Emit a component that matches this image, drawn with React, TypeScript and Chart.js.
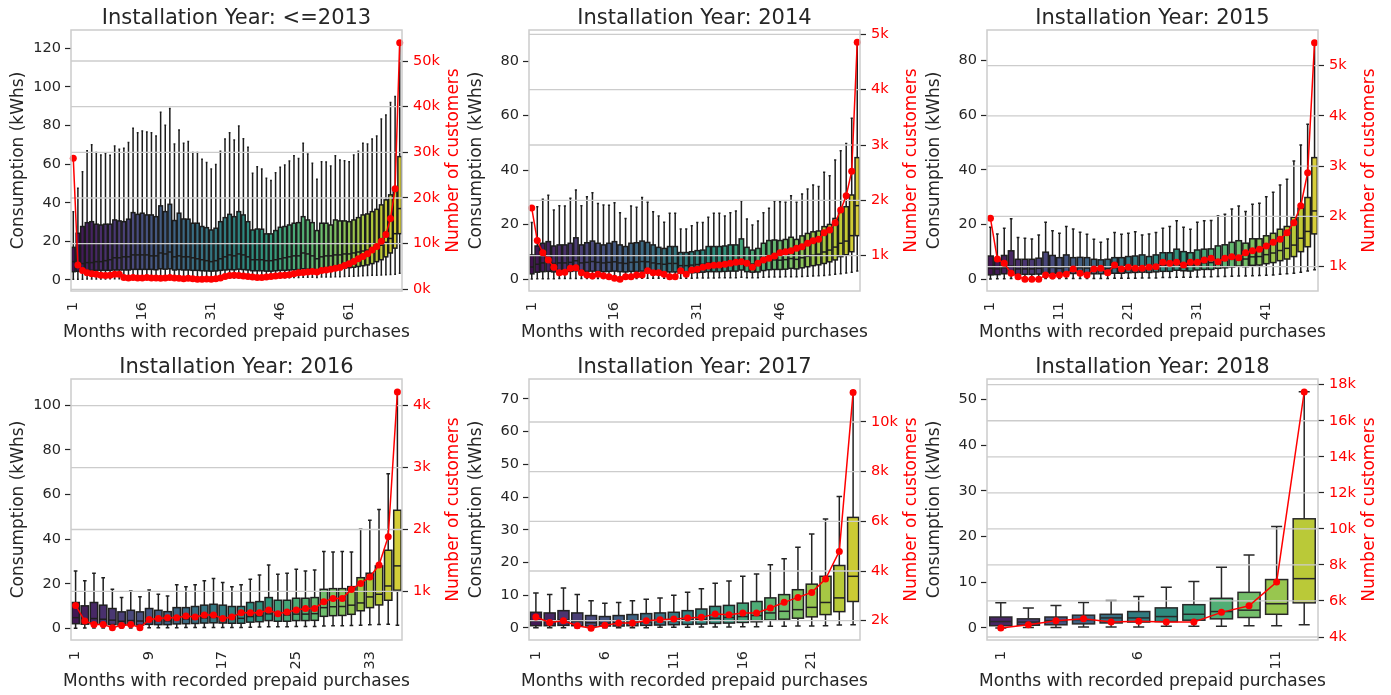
import React, { useEffect, useRef } from "react";
import { Chart, registerables } from "chart.js";

Chart.register(...registerables);

// ---------- data: installation year <=2013 ----------
const high2013 = [35.4, 47.5, 56.1, 67.0, 70.0, 66.0, 64.8, 65.6, 64.6, 69.4, 67.7, 68.2, 71.2, 78.6, 76.3, 77.2, 76.7, 76.3, 74.6, 86.9, 80.1, 88.9, 70.5, 77.7, 70.8, 71.8, 66.0, 66.0, 62.5, 60.8, 57.5, 59.8, 66.7, 73.1, 76.3, 72.5, 79.8, 73.2, 68.7, 55.3, 58.7, 57.5, 52.7, 51.5, 55.6, 58.4, 59.6, 61.7, 64.4, 63.0, 70.8, 65.3, 60.5, 52.2, 61.3, 61.1, 59.1, 64.3, 62.2, 61.8, 61.3, 64.8, 66.7, 70.8, 70.5, 73.1, 74.6, 83.4, 85.5, 92.0, 95.0, 123.4];
const upperQ2013 = [16.9, 24.2, 27.7, 29.7, 30.2, 28.9, 28.5, 28.9, 28.9, 31.1, 30.6, 30.2, 31.5, 34.9, 34.0, 34.6, 33.7, 33.7, 32.8, 38.4, 35.4, 39.2, 30.8, 34.6, 31.6, 31.5, 29.4, 29.4, 27.7, 27.1, 25.9, 26.8, 30.2, 32.3, 34.0, 32.8, 35.4, 33.7, 30.2, 25.9, 26.4, 26.3, 23.9, 23.9, 25.6, 27.3, 27.7, 28.5, 29.4, 29.7, 32.8, 31.1, 29.7, 25.6, 29.4, 29.4, 28.5, 31.1, 30.6, 30.6, 30.2, 31.1, 32.3, 33.7, 34.2, 35.4, 36.6, 38.9, 41.5, 44.1, 46.6, 63.9];
const median2013 = [9.5, 8.5, 8.5, 9.0, 9.0, 9.5, 9.5, 10.0, 10.5, 11.5, 11.5, 12.0, 12.0, 13.0, 13.0, 13.0, 13.0, 12.5, 12.5, 14.0, 13.5, 14.5, 12.0, 12.5, 12.0, 12.0, 11.5, 11.0, 10.5, 10.0, 9.5, 10.0, 11.0, 12.0, 13.0, 12.5, 13.5, 13.0, 12.0, 10.5, 10.5, 10.5, 10.0, 10.0, 10.5, 11.0, 11.5, 12.0, 12.5, 12.5, 14.0, 13.5, 12.5, 11.0, 12.0, 12.5, 12.5, 13.0, 13.0, 13.5, 13.5, 14.0, 14.5, 15.0, 15.5, 16.5, 17.0, 18.0, 19.5, 21.5, 24.0, 37.0];
const lowerQ2013 = [4.3, 4.5, 4.8, 5.0, 5.0, 5.0, 5.0, 5.0, 5.0, 5.2, 5.2, 5.2, 5.2, 5.5, 5.5, 5.5, 5.5, 5.5, 5.3, 5.8, 5.6, 5.8, 5.2, 5.4, 5.2, 5.2, 5.0, 5.0, 4.8, 4.7, 4.6, 4.7, 5.0, 5.2, 5.4, 5.3, 5.6, 5.4, 5.2, 4.8, 4.8, 4.8, 4.6, 4.6, 4.8, 5.0, 5.0, 5.2, 5.3, 5.4, 5.8, 5.6, 5.4, 5.0, 5.6, 5.8, 5.8, 6.0, 6.0, 6.2, 6.4, 6.6, 7.0, 7.4, 7.8, 8.5, 9.5, 10.5, 12.0, 14.0, 16.5, 24.0];
const low2013 = [0.45, 0.45, 0.45, 0.5, 0.5, 0.5, 0.5, 0.5, 0.6, 0.6, 0.6, 0.6, 0.6, 0.7, 0.7, 0.7, 0.7, 0.7, 0.7, 0.8, 0.8, 0.8, 0.7, 0.8, 0.8, 0.8, 0.8, 0.8, 0.8, 0.8, 0.9, 0.9, 0.9, 1.0, 1.0, 1.0, 1.1, 1.1, 1.1, 1.0, 1.0, 1.0, 1.0, 1.0, 1.1, 1.1, 1.2, 1.2, 1.3, 1.3, 1.4, 1.4, 1.4, 1.3, 1.5, 1.6, 1.6, 1.7, 1.7, 1.8, 1.9, 2.0, 2.1, 2.2, 2.3, 2.4, 2.5, 2.6, 2.7, 2.8, 3.0, 3.5];
const customers2013 = [28700, 5300, 4100, 3600, 3400, 3300, 3100, 3000, 3100, 3300, 3300, 2600, 2500, 2600, 2500, 2500, 2600, 2500, 2500, 2400, 2500, 2600, 2500, 2400, 2300, 2400, 2300, 2200, 2200, 2250, 2200, 2300, 2450, 2800, 3000, 3100, 3000, 2900, 2800, 2700, 2600, 2600, 2700, 2800, 2900, 3000, 3100, 3200, 3400, 3600, 3700, 3800, 3900, 3800, 4100, 4200, 4400, 4600, 4800, 5200, 5600, 6100, 6700, 7200, 7800, 8600, 9400, 10500, 12000, 15500, 22000, 54000];
const kwhTicks2013 = [0, 20, 40, 60, 80, 100, 120];
const custTicks2013 = [0, 10000, 20000, 30000, 40000, 50000];

// ---------- data: 2014 ----------
const high2014 = [20.8, 26.6, 29.3, 30.8, 25.4, 27.0, 26.9, 29.7, 32.7, 27.0, 30.3, 31.7, 27.8, 27.2, 27.1, 28.1, 24.4, 22.3, 26.9, 26.4, 30.0, 28.2, 24.8, 23.2, 20.9, 24.2, 24.2, 18.4, 18.4, 19.6, 20.8, 20.8, 22.7, 24.2, 24.2, 23.2, 24.4, 25.0, 28.8, 22.1, 19.9, 21.4, 24.4, 26.0, 28.7, 28.4, 28.2, 30.6, 28.2, 31.3, 33.1, 34.6, 34.0, 39.2, 38.0, 43.7, 47.1, 49.8, 59.0, 87.0];
const upperQ2014 = [8.9, 12.2, 13.2, 13.8, 12.2, 12.6, 12.6, 13.2, 15.2, 12.6, 13.4, 14.0, 13.2, 12.6, 13.2, 13.8, 12.6, 12.0, 13.2, 13.4, 14.0, 13.5, 12.6, 11.7, 11.3, 12.0, 12.0, 9.8, 9.8, 10.1, 10.5, 10.7, 12.0, 12.0, 12.0, 12.2, 12.6, 12.6, 14.8, 11.7, 10.7, 11.3, 13.2, 14.2, 14.4, 14.2, 14.6, 15.4, 14.6, 15.9, 16.8, 17.4, 17.7, 19.3, 20.1, 22.3, 24.8, 26.6, 30.9, 44.6];
const median2014 = [4.5, 5.5, 6.0, 6.2, 5.8, 6.0, 6.0, 6.2, 6.8, 6.0, 6.2, 6.5, 6.2, 6.0, 6.2, 6.4, 6.0, 5.8, 6.2, 6.3, 6.5, 6.4, 6.0, 5.7, 5.5, 5.8, 5.8, 5.0, 5.0, 5.2, 5.4, 5.5, 6.0, 6.0, 6.0, 6.1, 6.3, 6.3, 7.0, 5.9, 5.6, 5.8, 6.5, 7.0, 7.1, 7.0, 7.2, 7.6, 7.3, 7.9, 8.4, 8.8, 9.2, 10.0, 10.7, 11.8, 13.2, 14.0, 16.0, 27.0];
const lowerQ2014 = [2.0, 2.6, 2.8, 2.9, 2.7, 2.8, 2.8, 2.9, 3.1, 2.8, 2.9, 3.0, 2.9, 2.8, 2.9, 3.0, 2.8, 2.7, 2.9, 2.9, 3.0, 3.0, 2.8, 2.6, 2.5, 2.7, 2.7, 2.3, 2.3, 2.4, 2.5, 2.6, 2.8, 2.8, 2.8, 2.9, 3.0, 3.0, 3.4, 2.8, 2.6, 2.7, 3.2, 3.5, 3.6, 3.6, 3.7, 4.0, 3.8, 4.2, 4.6, 5.0, 5.3, 5.8, 6.4, 7.1, 8.3, 9.0, 10.1, 16.0];
const low2014 = [0.1, 0.2, 0.2, 0.2, 0.2, 0.3, 0.3, 0.3, 0.3, 0.3, 0.3, 0.3, 0.3, 0.3, 0.3, 0.3, 0.3, 0.3, 0.3, 0.3, 0.4, 0.4, 0.4, 0.4, 0.4, 0.4, 0.4, 0.4, 0.4, 0.4, 0.5, 0.5, 0.5, 0.5, 0.6, 0.6, 0.6, 0.6, 0.7, 0.6, 0.6, 0.6, 0.7, 0.8, 0.8, 0.8, 0.9, 0.9, 0.9, 1.0, 1.1, 1.2, 1.3, 1.4, 1.6, 1.8, 2.0, 2.3, 2.6, 3.0];
const customers2014 = [1860, 1273, 1054, 922, 790, 693, 699, 771, 783, 693, 651, 633, 663, 639, 621, 591, 573, 621, 621, 651, 651, 729, 693, 693, 663, 621, 621, 729, 663, 740, 753, 790, 814, 826, 832, 845, 862, 880, 892, 862, 790, 862, 922, 953, 995, 1054, 1072, 1090, 1134, 1163, 1224, 1271, 1296, 1415, 1465, 1597, 1826, 2084, 2527, 4856];
const kwhTicks2014 = [0, 20, 40, 60, 80];
const custTicks2014 = [1000, 2000, 3000, 4000, 5000];

// ---------- data: 2015 ----------
const high2015 = [19.0, 16.6, 18.7, 22.1, 15.3, 15.0, 14.7, 16.2, 20.9, 17.7, 16.8, 19.3, 18.4, 17.2, 16.5, 14.6, 13.5, 14.7, 17.1, 16.5, 16.8, 17.4, 16.2, 16.6, 17.1, 18.7, 19.3, 21.4, 19.0, 18.3, 20.9, 21.4, 21.5, 23.2, 23.8, 25.7, 26.8, 24.8, 27.4, 27.8, 30.2, 31.8, 34.5, 36.6, 43.3, 49.1, 56.7, 86.8];
const upperQ2015 = [8.5, 7.3, 8.7, 10.4, 7.3, 7.3, 7.3, 7.7, 9.9, 8.7, 7.9, 8.9, 7.9, 8.0, 7.9, 7.3, 7.1, 7.3, 7.9, 7.9, 8.3, 8.5, 8.9, 8.3, 8.9, 9.7, 9.7, 11.0, 10.1, 9.7, 10.7, 11.0, 11.1, 12.2, 12.6, 13.5, 14.1, 13.2, 14.8, 14.8, 15.9, 16.8, 18.3, 19.3, 22.7, 26.0, 29.9, 44.5];
const median2015 = [4.0, 3.8, 4.2, 4.8, 3.8, 3.8, 3.8, 4.0, 4.6, 4.3, 4.0, 4.5, 4.1, 4.2, 4.1, 3.9, 3.8, 3.9, 4.2, 4.2, 4.4, 4.5, 4.7, 4.5, 4.8, 5.1, 5.1, 5.7, 5.4, 5.3, 5.8, 6.0, 6.1, 6.6, 6.9, 7.3, 7.7, 7.4, 8.2, 8.3, 9.0, 9.6, 10.5, 11.3, 12.5, 15.0, 17.5, 25.0];
const lowerQ2015 = [1.6, 1.7, 2.0, 2.3, 1.8, 1.8, 1.8, 1.9, 2.3, 2.1, 2.0, 2.3, 2.1, 2.2, 2.1, 2.0, 2.0, 2.0, 2.2, 2.2, 2.4, 2.5, 2.6, 2.5, 2.7, 2.9, 2.9, 3.3, 3.1, 3.0, 3.4, 3.6, 3.6, 4.0, 4.2, 4.5, 4.8, 4.6, 5.1, 5.2, 5.7, 6.1, 6.8, 7.4, 8.3, 10.1, 11.9, 16.6];
const low2015 = [0.1, 0.2, 0.2, 0.3, 0.2, 0.2, 0.2, 0.2, 0.3, 0.3, 0.3, 0.3, 0.3, 0.3, 0.3, 0.3, 0.3, 0.3, 0.4, 0.4, 0.4, 0.4, 0.5, 0.5, 0.5, 0.6, 0.6, 0.7, 0.7, 0.7, 0.8, 0.8, 0.9, 1.0, 1.0, 1.1, 1.2, 1.2, 1.3, 1.4, 1.5, 1.6, 1.8, 2.0, 2.2, 2.6, 3.0, 3.5];
const customers2015 = [1963, 1153, 1068, 869, 801, 749, 749, 749, 835, 815, 835, 848, 954, 869, 835, 954, 968, 881, 1034, 954, 988, 968, 968, 988, 1000, 1087, 1068, 1087, 1034, 1087, 1087, 1133, 1167, 1100, 1167, 1199, 1180, 1279, 1319, 1346, 1412, 1485, 1545, 1677, 1876, 2214, 2871, 5458];
const kwhTicks2015 = [0, 20, 40, 60, 80];
const custTicks2015 = [1000, 2000, 3000, 4000, 5000];

// ---------- data: 2016 ----------
const high2016 = [25.8, 21.4, 24.8, 22.8, 17.6, 13.9, 16.9, 14.3, 17.3, 15.4, 14.6, 19.6, 18.8, 19.6, 21.4, 22.4, 20.6, 18.8, 19.6, 22.1, 24.0, 28.5, 24.3, 24.8, 26.6, 25.8, 26.3, 34.5, 34.3, 34.5, 34.3, 44.5, 48.5, 53.4, 69.4, 106.5];
const upperQ2016 = [11.7, 10.2, 11.7, 10.5, 9.0, 7.5, 8.2, 7.5, 9.0, 8.2, 7.6, 9.4, 9.4, 9.9, 10.5, 10.9, 10.5, 9.9, 9.9, 11.7, 12.1, 13.9, 12.7, 12.7, 13.6, 13.6, 13.9, 17.6, 17.9, 17.9, 18.8, 22.8, 24.8, 28.1, 35.1, 53.0];
const median2016 = [4.9, 4.0, 4.5, 4.2, 3.8, 3.3, 3.6, 3.4, 3.8, 3.6, 3.5, 4.2, 4.3, 4.5, 4.8, 5.0, 4.8, 4.6, 4.6, 5.4, 5.7, 6.6, 6.0, 6.1, 6.5, 6.5, 6.7, 9.4, 9.8, 9.9, 10.5, 11.5, 14.2, 15.4, 19.1, 28.1];
const lowerQ2016 = [2.2, 2.0, 2.2, 2.0, 1.8, 1.6, 1.7, 1.6, 1.9, 1.8, 1.8, 2.1, 2.2, 2.3, 2.5, 2.6, 2.5, 2.4, 2.4, 2.9, 3.1, 3.6, 3.3, 3.3, 3.6, 3.6, 3.7, 5.5, 5.8, 5.9, 6.4, 8.0, 9.4, 10.6, 12.7, 17.2];
const low2016 = [0.2, 0.3, 0.3, 0.3, 0.3, 0.3, 0.3, 0.3, 0.4, 0.4, 0.4, 0.4, 0.5, 0.5, 0.5, 0.5, 0.5, 0.5, 0.5, 0.6, 0.7, 0.8, 0.8, 0.8, 0.9, 0.9, 0.9, 1.2, 1.3, 1.3, 1.4, 1.5, 1.7, 1.8, 2.0, 1.5];
const customers2016 = [774, 522, 467, 467, 414, 451, 467, 414, 548, 564, 575, 575, 603, 586, 619, 619, 564, 586, 656, 656, 656, 699, 640, 667, 699, 725, 725, 834, 887, 887, 1032, 1129, 1233, 1426, 1884, 4221];
const kwhTicks2016 = [0, 20, 40, 60, 80, 100];
const custTicks2016 = [1000, 2000, 3000, 4000];

// ---------- data: 2017 ----------
const high2017 = [10.7, 10.2, 12.2, 10.2, 8.3, 7.6, 7.8, 8.3, 8.8, 9.2, 10.0, 10.9, 12.0, 13.7, 14.4, 15.8, 16.5, 19.3, 21.2, 24.7, 28.7, 33.3, 40.2, 72.5];
const upperQ2017 = [4.8, 4.6, 5.3, 4.6, 3.8, 3.5, 3.8, 4.1, 4.4, 4.6, 4.8, 5.3, 5.8, 6.6, 6.9, 7.6, 8.1, 9.2, 10.2, 11.7, 13.4, 15.8, 19.1, 33.8];
const median2017 = [2.2, 2.0, 2.4, 2.0, 1.6, 1.5, 1.6, 1.8, 1.9, 2.0, 2.1, 2.4, 2.6, 3.0, 3.2, 3.5, 3.8, 4.6, 5.1, 5.6, 6.3, 7.8, 9.2, 15.8];
const lowerQ2017 = [0.7, 0.7, 0.8, 0.7, 0.6, 0.6, 0.6, 0.7, 0.8, 0.9, 1.0, 1.1, 1.2, 1.4, 1.5, 1.7, 1.9, 2.4, 2.7, 3.0, 3.4, 4.1, 5.0, 8.1];
const low2017 = [0.1, 0.1, 0.1, 0.1, 0.1, 0.1, 0.1, 0.1, 0.1, 0.2, 0.2, 0.2, 0.3, 0.3, 0.3, 0.4, 0.4, 0.5, 0.5, 0.6, 0.6, 0.7, 0.9, 1.0];
const customers2017 = [2149, 1932, 2000, 1799, 1700, 1812, 1906, 1906, 2000, 2040, 2067, 2107, 2134, 2268, 2242, 2309, 2309, 2510, 2738, 2939, 3140, 3678, 4790, 11191];
const kwhTicks2017 = [0, 10, 20, 30, 40, 50, 60, 70];
const custTicks2017 = [2000, 4000, 6000, 8000, 10000];

// ---------- data: 2018 ----------
const high2018 = [5.5, 4.4, 4.9, 5.6, 6.0, 6.9, 8.9, 10.2, 13.3, 16.0, 22.2, 51.7];
const upperQ2018 = [2.4, 2.0, 2.4, 2.8, 3.0, 3.6, 4.4, 5.1, 6.5, 7.8, 10.6, 23.9];
const median2018 = [1.4, 1.3, 1.6, 1.8, 2.2, 2.2, 2.5, 3.0, 3.6, 3.9, 5.3, 10.8];
const lowerQ2018 = [0.5, 0.6, 0.7, 0.9, 1.1, 1.3, 1.4, 1.7, 2.0, 2.3, 3.0, 5.5];
const low2018 = [0.0, 0.1, 0.1, 0.2, 0.2, 0.2, 0.4, 0.4, 0.4, 0.5, 0.5, 0.7];
const customers2018 = [4499, 4683, 4905, 5016, 4832, 4868, 4832, 4832, 5367, 5737, 7052, 17594];
const kwhTicks2018 = [0, 10, 20, 30, 40, 50];
const custTicks2018 = [4000, 6000, 8000, 10000, 12000, 14000, 16000, 18000];

// ---------- styling / layout ----------
const FONT = "'DejaVu Sans', 'Liberation Sans', sans-serif";
const INK = "#262626";
const RED = "#ff0000";
const GRID = "#cccccc";
const LINE_W = 1.5;

const PLOT_W = 331;
const PLOT_H = 261;
const AXIS_L = 70;
const AXIS_R = 65;
const HEAD = 30;
const FOOT = 52;
const CANVAS_W = AXIS_L + PLOT_W + AXIS_R;
const CANVAS_H = HEAD + PLOT_H + FOOT;
const PLOT_LEFTS = [71, 529, 987];
const PLOT_TOPS = [30, 379];

type PanelSpec = {
  title: string;
  low: number[];
  lowerQ: number[];
  median: number[];
  upperQ: number[];
  high: number[];
  customers: number[];
  kwhRange: [number, number];
  kwhTicks: number[];
  custRange: [number, number];
  custTicks: number[];
  labelEvery: number;
};

const panels: PanelSpec[] = [
  { title: "Installation Year: <=2013", low: low2013, lowerQ: lowerQ2013, median: median2013, upperQ: upperQ2013, high: high2013, customers: customers2013, kwhRange: [-5.7, 129.5], kwhTicks: kwhTicks2013, custRange: [-372, 56790], custTicks: custTicks2013, labelEvery: 15 },
  { title: "Installation Year: 2014", low: low2014, lowerQ: lowerQ2014, median: median2014, upperQ: upperQ2014, high: high2014, customers: customers2014, kwhRange: [-4.3, 91.4], kwhTicks: kwhTicks2014, custRange: [362, 5078], custTicks: custTicks2014, labelEvery: 15 },
  { title: "Installation Year: 2015", low: low2015, lowerQ: lowerQ2015, median: median2015, upperQ: upperQ2015, high: high2015, customers: customers2015, kwhRange: [-4.3, 91.2], kwhTicks: kwhTicks2015, custRange: [516, 5710], custTicks: custTicks2015, labelEvery: 10 },
  { title: "Installation Year: 2016", low: low2016, lowerQ: lowerQ2016, median: median2016, upperQ: upperQ2016, high: high2016, customers: customers2016, kwhRange: [-5.1, 111.8], kwhTicks: kwhTicks2016, custRange: [215, 4431], custTicks: custTicks2016, labelEvery: 8 },
  { title: "Installation Year: 2017", low: low2017, lowerQ: lowerQ2017, median: median2017, upperQ: upperQ2017, high: high2017, customers: customers2017, kwhRange: [-3.67, 76.1], kwhTicks: kwhTicks2017, custRange: [1223, 11731], custTicks: custTicks2017, labelEvery: 5 },
  { title: "Installation Year: 2018", low: low2018, lowerQ: lowerQ2018, median: median2018, upperQ: upperQ2018, high: high2018, customers: customers2018, kwhRange: [-2.63, 54.5], kwhTicks: kwhTicks2018, custRange: [3834, 18316], custTicks: custTicks2018, labelEvery: 5 },
];

// ---------- viridis palette (seaborn style: sampled inside the map, desaturated) ----------
const VIRIDIS: number[][] = [
  [68, 1, 84], [71, 19, 101], [72, 36, 117], [70, 51, 127], [65, 68, 135], [59, 82, 139],
  [53, 95, 141], [47, 108, 142], [42, 120, 142], [37, 132, 142], [33, 145, 140], [30, 156, 137],
  [34, 168, 132], [53, 183, 121], [68, 191, 112], [94, 201, 98], [122, 209, 81], [159, 218, 58],
  [189, 223, 38], [223, 227, 24], [253, 231, 37],
];

function viridis(t: number): number[] {
  const pos = Math.min(Math.max(t, 0), 1) * (VIRIDIS.length - 1);
  const i = Math.min(Math.floor(pos), VIRIDIS.length - 2);
  const f = pos - i;
  return VIRIDIS[i].map((c, k) => (c + (VIRIDIS[i + 1][k] - c) * f) / 255);
}

function lightness(rgb: number[]): number {
  return (Math.max(...rgb) + Math.min(...rgb)) / 2;
}

// HLS desaturation keeps lightness; channels move linearly toward it.
function desaturate(rgb: number[], prop: number): number[] {
  const l = lightness(rgb);
  return rgb.map((c) => l + (c - l) * prop);
}

function toCss(rgb: number[]): string {
  const [r, g, b] = rgb.map((c) => Math.round(c * 255));
  return `rgb(${r},${g},${b})`;
}

function boxPalette(n: number) {
  const cols: number[][] = [];
  for (let i = 0; i < n; i++) cols.push(desaturate(viridis((i + 1) / (n + 1)), 0.75));
  const lum = Math.min(...cols.map(lightness)) * 0.6;
  return { fills: cols.map(toCss), edge: toCss([lum, lum, lum]) };
}

function PanelChart({ spec, left, top }: { spec: PanelSpec; left: number; top: number }) {
  const ref = useRef<HTMLCanvasElement>(null);

  useEffect(() => {
    const canvas = ref.current;
    if (!canvas) return;
    const n = spec.high.length;
    const labels = Array.from({ length: n }, (_, i) => String(i + 1));
    const { fills, edge } = boxPalette(n);

    const overlay = {
      id: "boxOverlay",
      afterDatasetDraw(chart: any, args: any) {
        if (args.index !== 0) return;
        const { ctx, chartArea: a } = chart;
        const { x, y, y2 } = chart.scales;
        const band = n > 1 ? x.getPixelForValue(1) - x.getPixelForValue(0) : x.width;
        const cap = band * 0.4;
        const bars = chart.getDatasetMeta(0).data;
        ctx.save();
        ctx.beginPath();
        ctx.rect(a.left, a.top, a.right - a.left, a.bottom - a.top);
        ctx.clip();
        ctx.strokeStyle = edge;
        ctx.lineWidth = LINE_W;
        ctx.lineCap = "butt";
        bars.forEach((bar: any, i: number) => {
          const p = bar.getProps(["x", "y", "base", "width"], true);
          const yHi = y.getPixelForValue(spec.high[i]);
          const yLo = y.getPixelForValue(spec.low[i]);
          const yMed = y.getPixelForValue(spec.median[i]);
          const boxTop = Math.min(p.y, p.base);
          const boxBottom = Math.max(p.y, p.base);
          ctx.beginPath();
          ctx.moveTo(p.x, boxTop);
          ctx.lineTo(p.x, yHi);
          ctx.moveTo(p.x - cap / 2, yHi);
          ctx.lineTo(p.x + cap / 2, yHi);
          ctx.moveTo(p.x, boxBottom);
          ctx.lineTo(p.x, yLo);
          ctx.moveTo(p.x - cap / 2, yLo);
          ctx.lineTo(p.x + cap / 2, yLo);
          ctx.stroke();
          ctx.strokeRect(p.x - p.width / 2, boxTop, p.width, boxBottom - boxTop);
          ctx.beginPath();
          ctx.moveTo(p.x - p.width / 2, yMed);
          ctx.lineTo(p.x + p.width / 2, yMed);
          ctx.stroke();
        });
        // customer-axis grid sits above the boxes, below the customer line
        ctx.strokeStyle = GRID;
        ctx.lineWidth = 1.3;
        y2.ticks.forEach((t: any) => {
          const py = y2.getPixelForValue(t.value);
          ctx.beginPath();
          ctx.moveTo(a.left, py);
          ctx.lineTo(a.right, py);
          ctx.stroke();
        });
        ctx.restore();
      },
      afterDraw(chart: any) {
        const { ctx, chartArea: a } = chart;
        ctx.save();
        ctx.strokeStyle = GRID;
        ctx.lineWidth = 1.5;
        ctx.strokeRect(a.left, a.top, a.right - a.left, a.bottom - a.top);
        ctx.textAlign = "center";
        ctx.textBaseline = "middle";
        ctx.font = `17px ${FONT}`;
        // x-axis title (drawn at natural width)
        ctx.fillStyle = INK;
        ctx.fillText("Months with recorded prepaid purchases", (a.left + a.right) / 2, a.bottom + 41.8);
        // right-hand axis title, reading upwards
        ctx.translate(a.right + 51.5, (a.top + a.bottom) / 2);
        ctx.rotate(-Math.PI / 2);
        ctx.fillStyle = RED;
        ctx.fillText("Number of customers", 0, 0);
        ctx.restore();
      },
    };

    const tickFont = { family: FONT, size: 14.5 };
    const chart = new Chart(canvas, {
      type: "bar",
      data: {
        labels,
        datasets: [
          {
            type: "bar",
            data: spec.lowerQ.map((q, i) => [q, spec.upperQ[i]]),
            backgroundColor: fills,
            borderWidth: 0,
            borderSkipped: false,
            barPercentage: 0.8,
            categoryPercentage: 1,
            yAxisID: "y",
            order: 2,
          } as any,
          {
            type: "line",
            data: spec.customers,
            yAxisID: "y2",
            borderColor: RED,
            backgroundColor: RED,
            borderWidth: 1.5,
            pointRadius: 3.5,
            pointBorderWidth: 0,
            pointBackgroundColor: RED,
            tension: 0,
            order: 1,
          } as any,
        ],
      },
      options: {
        responsive: false,
        animation: false,
        events: [],
        layout: { padding: 0, autoPadding: false },
        plugins: {
          legend: { display: false },
          tooltip: { enabled: false },
          title: {
            display: true,
            text: spec.title,
            color: INK,
            fullSize: false,
            font: { family: FONT, size: 21, weight: "normal", lineHeight: 1 },
            padding: { top: 8, bottom: 1 },
          },
        },
        scales: {
          x: {
            type: "category",
            offset: true,
            grid: { display: false, drawTicks: false },
            border: { display: false },
            ticks: {
              autoSkip: false,
              minRotation: 90,
              maxRotation: 90,
              padding: 11,
              color: INK,
              font: tickFont,
              callback: (v: any, i: number) => (i % spec.labelEvery === 0 ? labels[i] : null),
            },
            title: { display: false },
            afterFit: (s: any) => {
              s.height = FOOT;
            },
          },
          y: {
            position: "left",
            min: spec.kwhRange[0],
            max: spec.kwhRange[1],
            afterBuildTicks: (s: any) => {
              s.ticks = spec.kwhTicks.map((v) => ({ value: v }));
            },
            grid: { drawOnChartArea: false, drawTicks: true, tickLength: 6, tickColor: INK, tickWidth: 1.2 },
            border: { display: false },
            ticks: { padding: 4, color: INK, font: tickFont },
            title: {
              display: true,
              text: "Consumption (kWhs)",
              color: INK,
              font: { family: FONT, size: 17, lineHeight: 1.2 },
              padding: { top: 7.3, bottom: 0 },
            },
            afterFit: (s: any) => {
              s.width = AXIS_L;
            },
          },
          y2: {
            position: "right",
            min: spec.custRange[0],
            max: spec.custRange[1],
            afterBuildTicks: (s: any) => {
              s.ticks = spec.custTicks.map((v) => ({ value: v }));
            },
            grid: { drawOnChartArea: false, drawTicks: true, tickLength: 6, tickColor: INK, tickWidth: 1.2 },
            border: { display: false },
            ticks: {
              padding: 5,
              color: RED,
              font: tickFont,
              callback: (v: any) => `${Math.round(Number(v) / 1000)}k`,
            },
            afterFit: (s: any) => {
              s.width = AXIS_R;
            },
          },
        },
      } as any,
      plugins: [overlay],
    });
    return () => chart.destroy();
  }, [spec]);

  return (
    <canvas
      ref={ref}
      width={CANVAS_W}
      height={CANVAS_H}
      style={{ position: "absolute", left, top, width: CANVAS_W, height: CANVAS_H }}
    />
  );
}

export default function App() {
  return (
    <div style={{ position: "absolute", left: 0, top: 0, width: 1391, height: 695, background: "#ffffff", overflow: "hidden" }}>
      {panels.map((spec, i) => (
        <PanelChart
          key={spec.title}
          spec={spec}
          left={PLOT_LEFTS[i % 3] - AXIS_L}
          top={PLOT_TOPS[Math.floor(i / 3)] - HEAD}
        />
      ))}
    </div>
  );
}
